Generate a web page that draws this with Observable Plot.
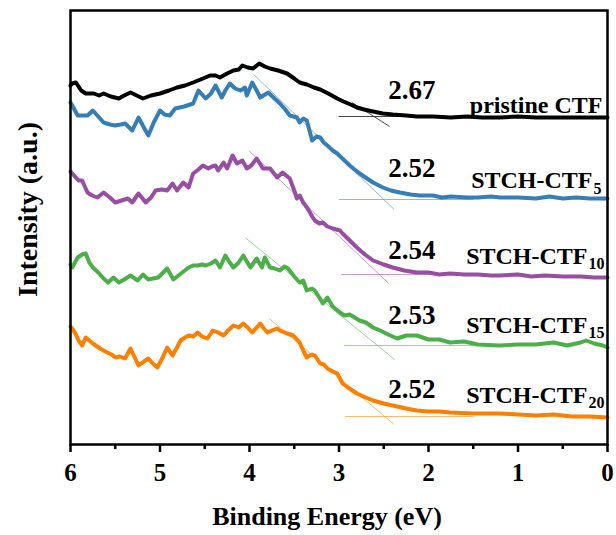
<!DOCTYPE html>
<html>
<head>
<meta charset="utf-8">
<script src="https://cdn.jsdelivr.net/npm/d3@7"></script>
<script src="https://cdn.jsdelivr.net/npm/@observablehq/plot@0.6"></script>
<style>
  html, body { margin: 0; padding: 0; background: #fff; }
  #chart { width: 616px; height: 535px; }
</style>
</head>
<body>
<div id="chart"></div>
<script>
// ---------- data (binding energy in eV, intensity in a.u.) ----------
const seriesNames = ["pristine CTF", "STCH-CTF", "STCH-CTF", "STCH-CTF", "STCH-CTF"];
const seriesSubs = ["", "5", "10", "15", "20"];
const seriesColors = ["#000000", "#377EB8", "#984EA3", "#4DAF4A", "#FF7F00"];
const onsetLabels = ["2.67", "2.52", "2.54", "2.53", "2.52"];

const pristine = [[6.0,417],[5.98,419],[5.94,420],[5.88,412],[5.83,409],[5.74,409],[5.68,407],[5.63,409],[5.55,406],[5.46,404],[5.40,407],[5.33,410],[5.26,407],[5.19,404],[5.10,407],[5.00,409],[4.90,412],[4.81,415],[4.72,417],[4.63,420],[4.52,424],[4.44,427],[4.38,427],[4.33,425],[4.25,429],[4.18,432],[4.12,433],[4.08,437],[4.02,435],[3.96,434],[3.89,439],[3.83,436],[3.77,434],[3.68,432],[3.58,429],[3.50,424],[3.44,420],[3.36,418],[3.28,415],[3.21,413],[3.12,409],[3.02,404],[2.95,401],[2.87,398],[2.80,395],[2.72,393],[2.62,391],[2.51,389],[2.40,388],[2.25,387],[2.13,386],[1.95,386],[1.75,385],[1.57,386],[1.40,385],[1.2,385],[1.0,386],[0.8,385],[0.6,385],[0.4,385],[0.2,385],[0,385]];

const ctf5 = [[6.0,400],[5.98,397],[5.92,387],[5.86,387],[5.81,387],[5.75,392],[5.69,386],[5.63,380],[5.56,378],[5.50,377],[5.44,378],[5.39,379],[5.31,372],[5.24,385],[5.18,375],[5.13,367],[5.07,380],[5.00,392],[4.95,388],[4.89,387],[4.83,394],[4.73,396],[4.63,399],[4.57,412],[4.49,404],[4.43,409],[4.38,417],[4.31,405],[4.27,412],[4.22,419],[4.16,414],[4.10,412],[4.05,415],[4.03,407],[3.97,420],[3.92,412],[3.88,405],[3.79,410],[3.72,404],[3.66,399],[3.60,393],[3.55,387],[3.47,385],[3.44,380],[3.40,384],[3.36,382],[3.30,362],[3.25,366],[3.21,365],[3.17,360],[3.13,357],[3.07,352],[3.02,349],[2.95,343],[2.88,337],[2.80,331],[2.72,326],[2.62,320],[2.51,315],[2.42,312],[2.32,310],[2.20,308],[2.10,307],[1.95,307],[1.85,305],[1.75,306],[1.57,305],[1.45,305],[1.30,306],[1.2,305],[1.0,305],[0.8,304],[0.65,306],[0.5,304],[0.35,305],[0.2,304],[0,304]];

const ctf10 = [[6.0,331],[5.98,329],[5.91,322],[5.87,322],[5.81,310],[5.76,307],[5.70,305],[5.63,310],[5.56,305],[5.50,300],[5.43,302],[5.36,304],[5.31,300],[5.24,309],[5.16,300],[5.10,305],[5.05,312],[4.98,313],[4.92,312],[4.86,319],[4.81,312],[4.74,320],[4.68,315],[4.63,329],[4.57,333],[4.52,337],[4.46,334],[4.42,336],[4.38,337],[4.35,332],[4.29,340],[4.25,334],[4.19,347],[4.14,339],[4.08,342],[4.03,334],[3.98,337],[3.92,344],[3.85,334],[3.77,334],[3.69,325],[3.63,330],[3.55,324],[3.50,312],[3.47,304],[3.44,307],[3.40,300],[3.35,294],[3.30,286],[3.27,282],[3.22,279],[3.18,280],[3.13,276],[3.07,274],[2.99,272],[2.96,269],[2.88,262],[2.80,255],[2.71,248],[2.62,242],[2.50,238],[2.40,235],[2.27,232],[2.13,230],[2.00,230],[1.88,228],[1.76,229],[1.60,228],[1.45,228],[1.30,227],[1.21,227],[1.0,228],[0.85,226],[0.7,227],[0.5,226],[0.3,226],[0.15,225],[0,225]];

const ctf15 = [[6.0,238],[5.98,235],[5.92,245],[5.87,248],[5.83,249],[5.79,240],[5.75,235],[5.69,230],[5.63,224],[5.58,220],[5.52,225],[5.46,220],[5.40,223],[5.33,227],[5.25,222],[5.19,228],[5.13,223],[5.08,224],[5.02,225],[4.92,234],[4.85,223],[4.78,228],[4.68,235],[4.63,237],[4.58,237],[4.53,238],[4.49,237],[4.43,239],[4.38,242],[4.33,235],[4.27,247],[4.22,240],[4.18,235],[4.12,240],[4.07,247],[3.99,235],[3.92,244],[3.86,235],[3.83,245],[3.77,235],[3.72,234],[3.66,232],[3.61,236],[3.57,234],[3.50,226],[3.44,220],[3.40,222],[3.36,212],[3.30,214],[3.27,212],[3.22,205],[3.18,199],[3.13,205],[3.07,196],[2.99,190],[2.94,187],[2.88,188],[2.77,182],[2.70,180],[2.62,175],[2.54,172],[2.45,168],[2.35,164],[2.25,167],[2.13,167],[2.00,163],[1.88,163],[1.76,160],[1.60,161],[1.45,158],[1.21,157],[1.0,158],[0.8,158],[0.6,160],[0.45,157],[0.3,160],[0.24,162],[0.15,159],[0.05,157],[0,155]];

const ctf20 = [[6.0,176],[5.98,174],[5.94,168],[5.91,162],[5.87,157],[5.83,165],[5.75,159],[5.67,154],[5.59,150],[5.54,148],[5.50,145],[5.45,146],[5.39,144],[5.33,154],[5.24,137],[5.18,141],[5.13,144],[5.08,139],[5.03,135],[4.97,145],[4.92,155],[4.86,147],[4.81,155],[4.77,162],[4.72,165],[4.68,167],[4.63,166],[4.58,170],[4.53,166],[4.47,164],[4.41,172],[4.35,170],[4.29,167],[4.24,172],[4.18,177],[4.12,175],[4.07,179],[4.02,175],[3.97,170],[3.92,175],[3.88,179],[3.84,174],[3.80,170],[3.75,172],[3.69,174],[3.66,172],[3.58,169],[3.51,167],[3.44,160],[3.40,152],[3.36,145],[3.30,148],[3.27,147],[3.21,139],[3.17,138],[3.13,134],[3.07,131],[3.02,129],[2.96,119],[2.90,115],[2.80,109],[2.70,105],[2.62,102],[2.50,99],[2.40,97],[2.25,94],[2.13,92],[2.00,91],[1.88,91],[1.76,90],[1.50,89],[1.21,89],[1.0,88],[0.8,87],[0.6,88],[0.4,86],[0.2,86],[0,85]];

// tangent-line (band-edge) construction
const baselineLevel = [386, 303, 228, 157, 86];        // flat background intensity
const crossingEnergy = [2.61, 2.50, 2.55, 2.57, 2.49]; // where tangent meets baseline (eV)
const tangentSlope = [57, 86, 85, 73, 76];             // a.u. per eV
const tangentFrom = [2.85, 3.95, 4.00, 4.04, 3.78];
const tangentTo = [2.44, 2.39, 2.45, 2.38, 2.39];
const baselineFrom = [3.00, 3.00, 2.97, 2.94, 2.93];
const baselineTo = [1.5, 1.5, 1.5, 1.5, 1.5];

const majorTicks = [6, 5, 4, 3, 2, 1, 0];
const minorTicks = [5.5, 4.5, 3.5, 2.5, 1.5, 0.5];

// ---------- build tables ----------
const curves = [pristine, ctf5, ctf10, ctf15, ctf20];
const curveRows = curves.flatMap((c, i) => c.map(([e, v]) => ({e, v, s: i})));
const guideRows = [];
for (let i = 0; i < 5; i++) {
  const f = e => baselineLevel[i] + tangentSlope[i] * (e - crossingEnergy[i]);
  guideRows.push({s: i, k: "t", e: tangentFrom[i], v: f(tangentFrom[i])});
  guideRows.push({s: i, k: "t", e: tangentTo[i], v: f(tangentTo[i])});
  guideRows.push({s: i, k: "b", e: baselineFrom[i], v: baselineLevel[i]});
  guideRows.push({s: i, k: "b", e: baselineTo[i], v: baselineLevel[i]});
}
const labelRows = seriesNames.map((n, i) => ({s: i, name: n, sub: seriesSubs[i], val: onsetLabels[i], v: baselineLevel[i]}));

// ---------- styling (pixel offsets of annotation text) ----------
const serif = "'Liberation Serif', 'Times New Roman', Times, serif";
const valueDy = [-18, -23, -16, -22, -19];
const nameDy = [-4, -12, -11, -13, -14];
const subDy = [0, -6, -6, -8, -9];
const nameDx = [-5, -15, -20, -20, -20];

const nameMarks = labelRows.flatMap((r, i) => {
  const marks = [
    Plot.text([r], {x: 0, y: "v", text: "name", textAnchor: "end", lineAnchor: "bottom",
      dx: nameDx[i], dy: nameDy[i], fontSize: 24, fontWeight: "bold", fontFamily: serif, fill: "#000"}),
    Plot.text([r], {x: 2.45, y: "v", text: "val", textAnchor: "start", lineAnchor: "bottom",
      dy: valueDy[i], fontSize: 27, fontWeight: "bold", fontFamily: serif, fill: "#000"})
  ];
  if (r.sub) {
    marks.push(Plot.text([r], {x: 0, y: "v", text: "sub", textAnchor: "start", lineAnchor: "bottom",
      dx: nameDx[i] + 1, dy: subDy[i], fontSize: 16, fontWeight: "bold", fontFamily: serif, fill: "#000"}));
  }
  return marks;
});

const chart = Plot.plot({
  width: 616,
  height: 535,
  marginLeft: 70,
  marginRight: 9,
  marginTop: 10,
  marginBottom: 91,
  x: {domain: [6, 0]},
  y: {domain: [58, 492], axis: null},
  style: {fontFamily: serif, fontWeight: "bold", color: "#000", background: "#fff"},
  marks: [
    // tangent and baseline guides
    Plot.line(guideRows, {x: "e", y: "v", z: d => d.s + d.k,
      stroke: d => d.s === 0 ? "#333" : seriesColors[d.s],
      strokeOpacity: d => d.s === 0 ? 0.9 : 0.55, strokeWidth: 1}),
    // spectra
    Plot.line(curveRows, {x: "e", y: "v", z: "s", stroke: d => seriesColors[d.s], strokeWidth: 4,
      strokeLinejoin: "round", strokeLinecap: "round"}),
    ...nameMarks,
    // axes
    Plot.axisX({ticks: majorTicks, tickSize: 8, tickPadding: 11, strokeWidth: 2.5, fontSize: 25,
      fontWeight: "bold", fontFamily: serif, label: null, tickFormat: d => String(d)}),
    Plot.axisX({ticks: minorTicks, tickSize: 5, strokeWidth: 2.5, label: null, tickFormat: () => ""}),
    Plot.text(["Binding Energy (eV)"], {frameAnchor: "bottom", textAnchor: "middle", lineAnchor: "bottom", dx: -12, dy: 80,
      fontSize: 26, fontWeight: "bold", fontFamily: serif, fill: "#000"}),
    Plot.text(["Intensity (a.u.)"], {frameAnchor: "left", textAnchor: "middle", rotate: -90, lineAnchor: "middle", dx: -42, dy: -18,
      fontSize: 28, fontWeight: "bold", fontFamily: serif, fill: "#000"}),
    Plot.frame({stroke: "#000", strokeWidth: 2.5})
  ]
});

document.getElementById("chart").appendChild(chart);
</script>
</body>
</html>
